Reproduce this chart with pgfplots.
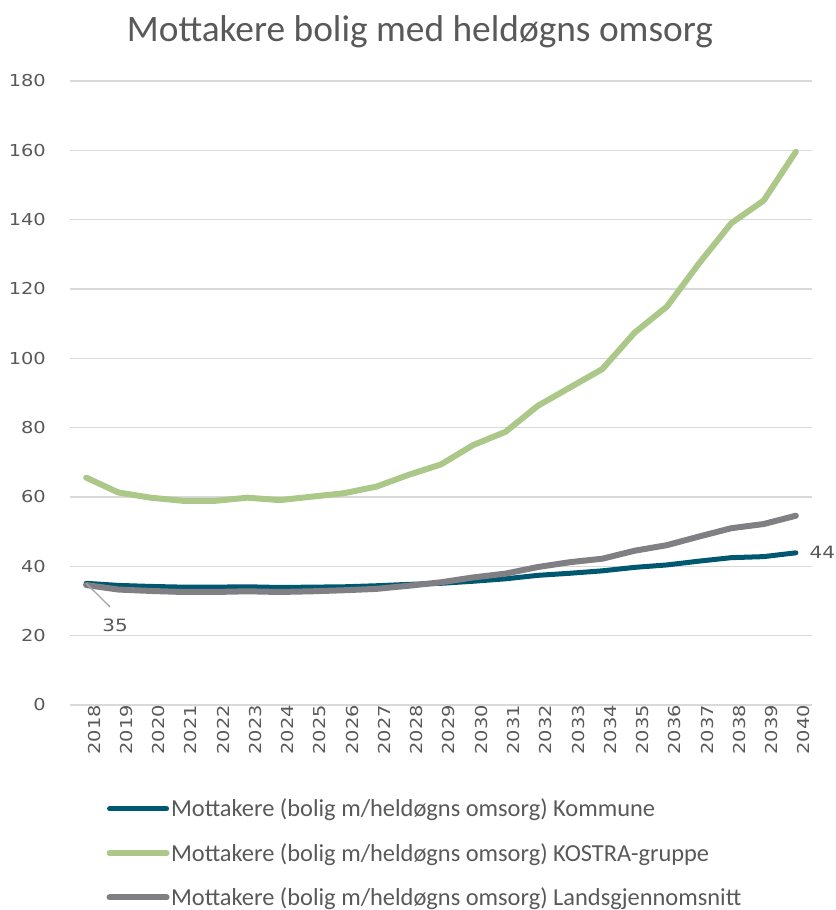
\documentclass[border=0pt]{standalone}
\usepackage{fontspec}
\setmainfont{Carlito}
\newfontfamily\tickfont[FakeStretch=1.18]{DejaVu Sans}
\usepackage{pgfplots}
\pgfplotsset{compat=1.18}
\definecolor{kteal}{RGB}{0,88,112}
\definecolor{kgreen}{RGB}{171,200,137}
\definecolor{kgray}{RGB}{128,127,131}
\definecolor{gridgray}{RGB}{217,217,217}
\definecolor{txt}{RGB}{89,89,89}
\begin{document}
\begin{tikzpicture}
\useasboundingbox (0,0) rectangle (836bp,910bp);
\node[text=txt, font=\fontsize{37.5}{40}\selectfont] at (420bp,878bp) {Mottakere bolig med heldøgns omsorg};
\begin{axis}[
  at={(70bp,205bp)}, anchor=south west,
  scale only axis, width=742bp, height=624bp,
  xmin=-0.5, xmax=22.5, ymin=0, ymax=180,
  ytick={0,20,...,180},
  xtick={0,...,22},
  xticklabels={2018,2019,2020,2021,2022,2023,2024,2025,2026,2027,2028,2029,2030,2031,2032,2033,2034,2035,2036,2037,2038,2039,2040},
  axis line style={draw=none},
  major tick length=0pt,
  ymajorgrids, grid style={draw=gridgray, line width=1.3bp},
  /pgf/number format/assume math mode=true,
  x tick label style={rotate=90, anchor=east, inner sep=0pt, yshift=-8bp, font=\tickfont\fontsize{16.5}{16}\selectfont, text=txt},
  y tick label style={anchor=east, inner sep=0pt, xshift=-24bp, font=\tickfont\fontsize{16.5}{16}\selectfont, text=txt},
  clip=false,
  legend style={at={(rel axis cs:0.049,-0.148)}, anchor=north west, draw=none, fill=none, inner sep=0pt,
    row sep=22bp, font=\fontsize{24.5}{25}\selectfont, text=txt, nodes={inner sep=1.5bp}},
  legend cell align=left,
  legend image code/.code={\draw[#1] (0bp,0bp) -- (57bp,0bp);},
  every axis plot/.append style={line join=round, line cap=round},
]
\addplot[kteal, line width=5bp] coordinates {
(0,35.1) (1,34.5) (2,34.2) (3,34.0) (4,34.0) (5,34.1) (6,33.9) (7,34.0) (8,34.1) (9,34.4) (10,34.8)
(11,35.1) (12,35.7) (13,36.4) (14,37.4) (15,38.0) (16,38.7) (17,39.7) (18,40.4) (19,41.5) (20,42.5) (21,42.8) (22,43.9)};
\addlegendentry{Mottakere (bolig m/heldøgns omsorg) Kommune}
\addplot[kgreen, line width=6bp] coordinates {
(0,65.6) (1,61.3) (2,59.8) (3,58.9) (4,58.9) (5,59.8) (6,59.1) (7,60.1) (8,61.1) (9,63.0) (10,66.4)
(11,69.4) (12,75.0) (13,78.8) (14,86.3) (15,91.6) (16,96.9) (17,107.4) (18,114.9) (19,127.4) (20,139.0) (21,145.5) (22,159.6)};
\addlegendentry{Mottakere (bolig m/heldøgns omsorg) KOSTRA-gruppe}
\addplot[kgray, line width=6bp] coordinates {
(0,34.6) (1,33.3) (2,32.9) (3,32.6) (4,32.6) (5,32.8) (6,32.6) (7,32.8) (8,33.1) (9,33.5) (10,34.4)
(11,35.4) (12,36.8) (13,37.9) (14,39.8) (15,41.2) (16,42.2) (17,44.5) (18,46.1) (19,48.6) (20,51.0) (21,52.2) (22,54.6)};
\addlegendentry{Mottakere (bolig m/heldøgns omsorg) Landsgjennomsnitt}
\draw[gray!70, line width=1.3bp] (axis cs:0,35.1) -- (axis cs:0.74,28.3);
\node[text=txt, font=\tickfont\fontsize{17}{17}\selectfont] at (axis cs:0.9,23.1) {35};
\node[text=txt, font=\tickfont\fontsize{17}{17}\selectfont, anchor=west, inner sep=0pt] at (axis cs:22.42,43.9) {44};
\end{axis}
\end{tikzpicture}
\end{document}
